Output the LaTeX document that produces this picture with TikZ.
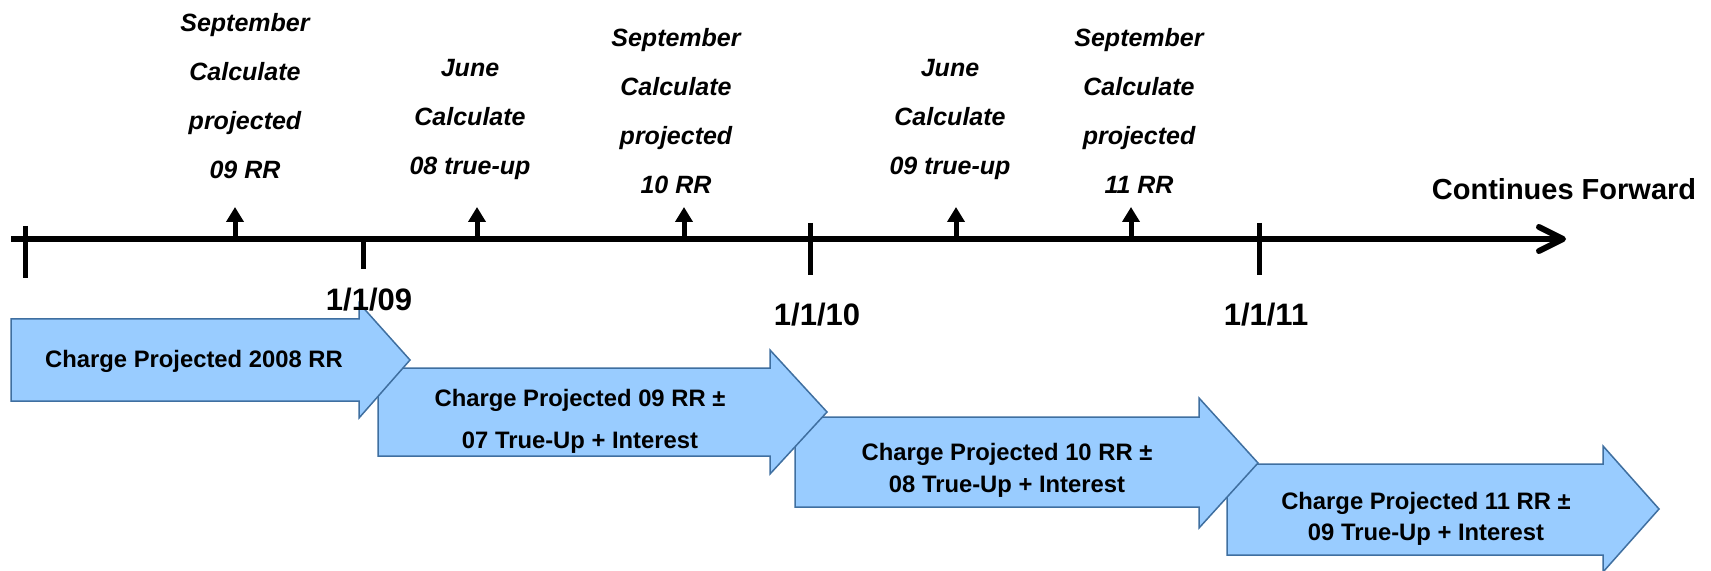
\documentclass[tikz,border=0pt]{standalone}
\usepackage{fontspec}
\setmainfont{Liberation Sans}
\usetikzlibrary{arrows.meta}
\definecolor{boxfill}{HTML}{99CCFF}
\definecolor{boxline}{HTML}{3F6FA0}
\begin{document}
\begin{tikzpicture}[x=0.5pt,y=-0.5pt,
  lbl/.style={font=\fontsize{12.5pt}{24.5pt}\selectfont\bfseries\itshape, align=center, inner sep=0pt},
  datelbl/.style={font=\fontsize{15.5pt}{18pt}\selectfont\bfseries, inner sep=0pt},
  boxtxt/.style={font=\fontsize{11.9pt}{#1}\selectfont\bfseries, align=center, inner sep=0pt},
  blockarrow/.style={fill=boxfill, draw=boxline, line width=0.75pt, line join=miter},
  axisline/.style={line width=3pt},
  tickmark/.style={line width=2.5pt},
  uparrow/.style={line width=2.5pt, -{Triangle[width=8.5pt,length=7.5pt]}}]
\useasboundingbox (0,0) rectangle (1711,571);

% block arrows (later ones underneath)
\path[blockarrow] (1227,464) -- (1603,464) -- (1603,446) -- (1659,509) -- (1603,572) -- (1603,555) -- (1227,555) -- cycle;
\path[blockarrow] (795,417) -- (1199,417) -- (1199,398) -- (1258,463) -- (1199,528) -- (1199,507) -- (795,507) -- cycle;
\path[blockarrow] (378,368) -- (770,368) -- (770,350) -- (827,412) -- (770,474) -- (770,456) -- (378,456) -- cycle;
\path[blockarrow] (11,319) -- (359,319) -- (359,303) -- (410,360) -- (359,418) -- (359,401) -- (11,401) -- cycle;

\node[boxtxt=21pt] (c1) at (194,361) {Charge Projected 2008 RR};
\node[boxtxt=21pt] (c2) at (580,421) {Charge Projected 09 RR ±\\07 True-Up + Interest};
\node[boxtxt=16pt] (c3) at (1007,470) {Charge Projected 10 RR ±\\08 True-Up + Interest};
\node[boxtxt=15.5pt] (c4) at (1426,519) {Charge Projected 11 RR ±\\09 True-Up + Interest};

% timeline
\coordinate (t0) at (11,239);
\coordinate (t1) at (1562,239);
\coordinate (hu) at (1539,227);
\coordinate (hd) at (1539,251);
\draw[axisline] (t0) -- (t1);
\draw[axisline, line cap=round, line join=round] (hu) -- (1563,239) -- (hd);

% ticks
\coordinate (k0a) at (25,226); \coordinate (k0b) at (25,278);
\coordinate (k1a) at (363,239); \coordinate (k1b) at (363,269);
\coordinate (k2a) at (810,223); \coordinate (k2b) at (810,275);
\coordinate (k3a) at (1259,223); \coordinate (k3b) at (1259,275);
\draw[tickmark] (k0a) -- (k0b);
\draw[tickmark] (k1a) -- (k1b);
\draw[tickmark] (k2a) -- (k2b);
\draw[tickmark] (k3a) -- (k3b);

% up arrows
\coordinate (u1a) at (235,239); \coordinate (u1b) at (235,207);
\coordinate (u2a) at (477,239); \coordinate (u2b) at (477,207);
\coordinate (u3a) at (684,239); \coordinate (u3b) at (684,207);
\coordinate (u4a) at (956,239); \coordinate (u4b) at (956,207);
\coordinate (u5a) at (1131,239); \coordinate (u5b) at (1131,207);
\draw[uparrow] (u1a) -- (u1b);
\draw[uparrow] (u2a) -- (u2b);
\draw[uparrow] (u3a) -- (u3b);
\draw[uparrow] (u4a) -- (u4b);
\draw[uparrow] (u5a) -- (u5b);

% labels
\node[lbl] (s09) at (245,96) {September\\Calculate\\projected\\09 RR};
\node[lbl] (j08) at (470,119) {June\\Calculate\\08 true-up};
\node[lbl] (s10) at (676,111) {September\\Calculate\\projected\\10 RR};
\node[lbl] (j09) at (950,119) {June\\Calculate\\09 true-up};
\node[lbl] (s11) at (1139,111) {September\\Calculate\\projected\\11 RR};
\node[font=\fontsize{14.5pt}{17pt}\selectfont\bfseries, inner sep=0pt] (cf) at (1564,189) {Continues Forward};

\node[datelbl] (d09) at (369,300) {1/1/09};
\node[datelbl] (d10) at (817,315) {1/1/10};
\node[datelbl] (d11) at (1266,315) {1/1/11};
\end{tikzpicture}
\end{document}
